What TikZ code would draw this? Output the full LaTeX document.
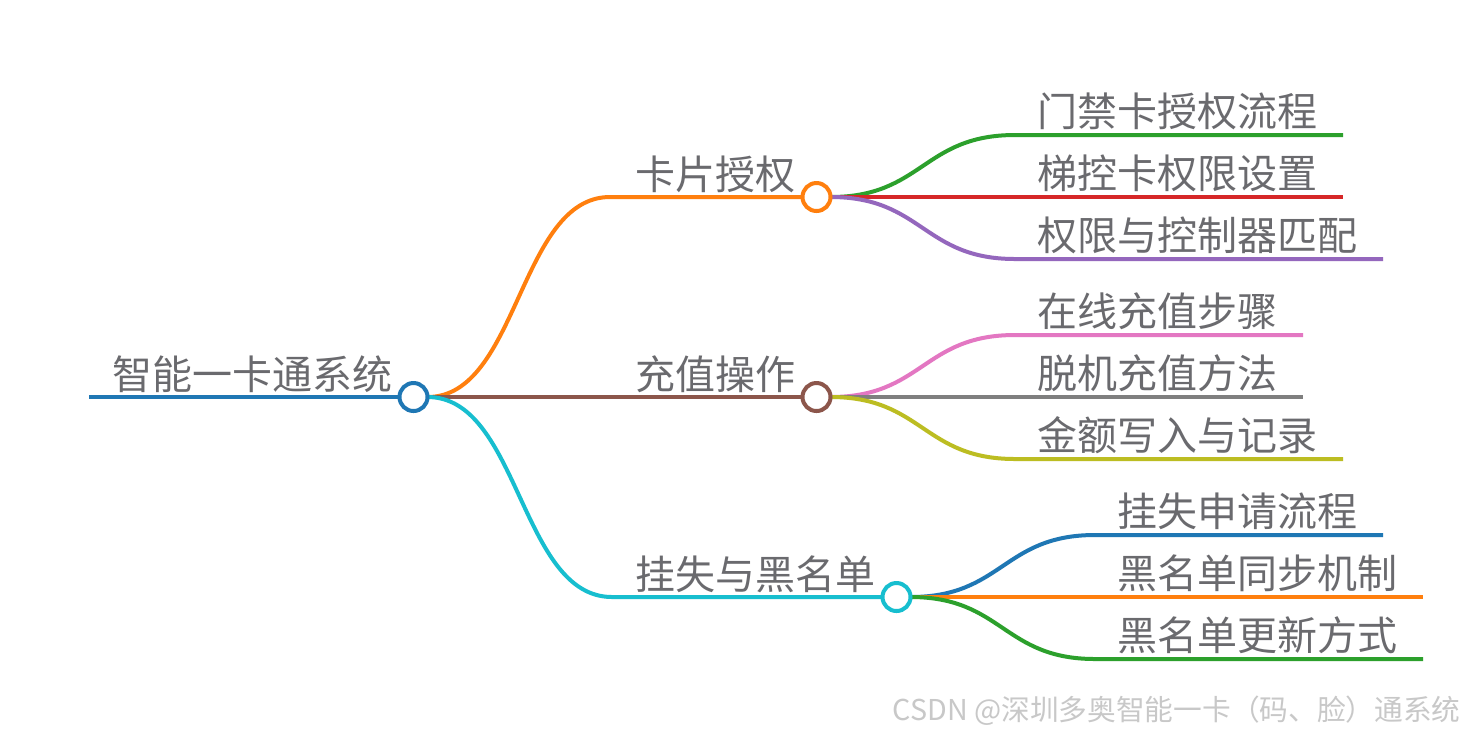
\documentclass[tikz,border=0pt]{standalone}
\usepackage{fontspec}
\newfontfamily\cjk{Noto Sans CJK SC}
\usetikzlibrary{backgrounds}
\definecolor{txtgray}{RGB}{106,106,110}
\definecolor{wmgray}{RGB}{200,200,200}
\definecolor{cblue}{RGB}{31,119,180}
\definecolor{corange}{RGB}{255,127,14}
\definecolor{cgreen}{RGB}{44,160,44}
\definecolor{cred}{RGB}{214,39,40}
\definecolor{cpurple}{RGB}{148,103,189}
\definecolor{cbrown}{RGB}{140,86,75}
\definecolor{cpink}{RGB}{227,119,194}
\definecolor{cgray}{RGB}{127,127,127}
\definecolor{colive}{RGB}{188,189,34}
\definecolor{ccyan}{RGB}{23,190,207}
\tikzset{
  hub/.style={circle, draw=#1, fill=white, line width=2pt, minimum size=14pt, inner sep=0pt, outer sep=0pt},
  lbl/.style={anchor=base west, inner sep=0pt, text=txtgray, font=\cjk\fontsize{20pt}{24pt}\selectfont},
  conn/.style={draw=#1, line width=2pt},
}
\begin{document}
\begin{tikzpicture}[x=0.5pt, y=-0.5pt]
\useasboundingbox (0,0) rectangle (1465,736);
% hubs
\node[hub=cblue] (root) at (413.5,397) {};
\node[hub=corange] (k1) at (816.5,197) {};
\node[hub=cbrown] (k2) at (816.5,397) {};
\node[hub=ccyan] (k3) at (896.5,597) {};
% labels
\node[lbl] (troot) at (112,389) {智能一卡通系统};
\node[lbl] (t1) at (635,189) {卡片授权};
\node[lbl] (t2) at (635,389) {充值操作};
\node[lbl] (t3) at (635,589) {挂失与黑名单};
\node[lbl] (t11) at (1037,126) {门禁卡授权流程};
\node[lbl] (t12) at (1037,188) {梯控卡权限设置};
\node[lbl] (t13) at (1037,250) {权限与控制器匹配};
\node[lbl] (t21) at (1037,326) {在线充值步骤};
\node[lbl] (t22) at (1037,388) {脱机充值方法};
\node[lbl] (t23) at (1037,450) {金额写入与记录};
\node[lbl] (t31) at (1117,526) {挂失申请流程};
\node[lbl] (t32) at (1117,588) {黑名单同步机制};
\node[lbl] (t33) at (1117,650) {黑名单更新方式};
\node[anchor=east, inner sep=0pt, text=wmgray, font=\cjk\fontsize{14.35pt}{17pt}\selectfont] (wm) at (1461,711) {CSDN @深圳多奥智能一卡（码、脸）通系统};
% coordinates
\coordinate (rs) at (89,397);
\coordinate (a1) at (610,197); \coordinate (a2) at (610,397); \coordinate (a3) at (612,597);
\coordinate (b11) at (1015,135); \coordinate (e11) at (1343,135);
\coordinate (b12) at (1015,197); \coordinate (e12) at (1343,197);
\coordinate (b13) at (1015,259); \coordinate (e13) at (1383,259);
\coordinate (b21) at (1015,335); \coordinate (e21) at (1303,335);
\coordinate (b22) at (1015,397); \coordinate (e22) at (1303,397);
\coordinate (b23) at (1015,459); \coordinate (e23) at (1343,459);
\coordinate (b31) at (1095,535); \coordinate (e31) at (1383,535);
\coordinate (b32) at (1095,597); \coordinate (e32) at (1423,597);
\coordinate (b33) at (1095,659); \coordinate (e33) at (1423,659);
\begin{scope}[on background layer]
\fill[white] (0,0) rectangle (1465,736);
\draw[conn=cblue] (rs) -- (root.west);
\draw[conn=corange] (root.east) .. controls +(91,0) and +(-91,0) .. (a1) -- (k1.west);
\draw[conn=cbrown] (root.east) -- (k2.west);
\draw[conn=ccyan] (root.east) .. controls +(92,0) and +(-92,0) .. (a3) -- (k3.west);
\draw[conn=cgreen] (k1.east) .. controls +(92,0) and +(-92,0) .. (b11) -- (e11);
\draw[conn=cred] (k1.east) -- (e12);
\draw[conn=cpurple] (k1.east) .. controls +(92,0) and +(-92,0) .. (b13) -- (e13);
\draw[conn=cpink] (k2.east) .. controls +(92,0) and +(-92,0) .. (b21) -- (e21);
\draw[conn=cgray] (k2.east) -- (e22);
\draw[conn=colive] (k2.east) .. controls +(92,0) and +(-92,0) .. (b23) -- (e23);
\draw[conn=cblue] (k3.east) .. controls +(92,0) and +(-92,0) .. (b31) -- (e31);
\draw[conn=corange] (k3.east) -- (e32);
\draw[conn=cgreen] (k3.east) .. controls +(92,0) and +(-92,0) .. (b33) -- (e33);
\end{scope}
\end{tikzpicture}
\end{document}
